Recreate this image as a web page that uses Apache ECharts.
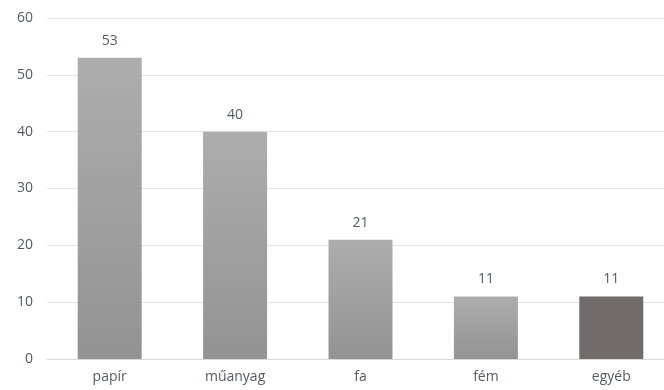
<!DOCTYPE html>
<html>
<head>
<meta charset="utf-8">
<script src="https://cdn.jsdelivr.net/npm/echarts@6/dist/echarts.min.js"></script>
<style>
  html, body { margin: 0; padding: 0; background: #fff; }
  #chart { width: 664px; height: 390px; }
</style>
</head>
<body>
<div id="chart"></div>
<script>
const categories = ['papír', 'műanyag', 'fa', 'fém', 'egyéb']
const values = [53, 40, 21, 11, 11]
const yTicks = { min: 0, max: 60, interval: 10 }

const grayFill = new echarts.graphic.LinearGradient(0, 0, 0, 1, [
  { offset: 0, color: '#adadad' },
  { offset: 1, color: '#939393' }
])
const darkFill = '#716c6b'

const chart = echarts.init(document.getElementById('chart'))
chart.setOption({
  animation: false,
  textStyle: { fontFamily: 'Open Sans, sans-serif' },
  grid: { left: 47, width: 627, top: 18, bottom: 31, outerBoundsMode: 'none', containLabel: false },
  xAxis: {
    type: 'category',
    data: categories,
    axisLine: { lineStyle: { color: '#d9d9d9' } },
    axisTick: { show: false },
    axisLabel: { color: '#545b66', fontSize: 14, margin: 11 }
  },
  yAxis: {
    type: 'value',
    min: yTicks.min, max: yTicks.max, interval: yTicks.interval,
    axisLine: { show: false },
    axisTick: { show: false },
    axisLabel: { color: '#545b66', fontSize: 14, margin: 14 },
    splitLine: { lineStyle: { color: '#e3e3ea' } }
  },
  series: [{
    type: 'bar',
    barWidth: 64,
    data: values.map((v, i) => ({
      value: v,
      itemStyle: { color: i === values.length - 1 ? darkFill : grayFill }
    })),
    label: {
      show: true,
      position: 'top',
      distance: 10,
      color: '#545b66',
      fontSize: 14
    }
  }]
})
</script>
</body>
</html>
